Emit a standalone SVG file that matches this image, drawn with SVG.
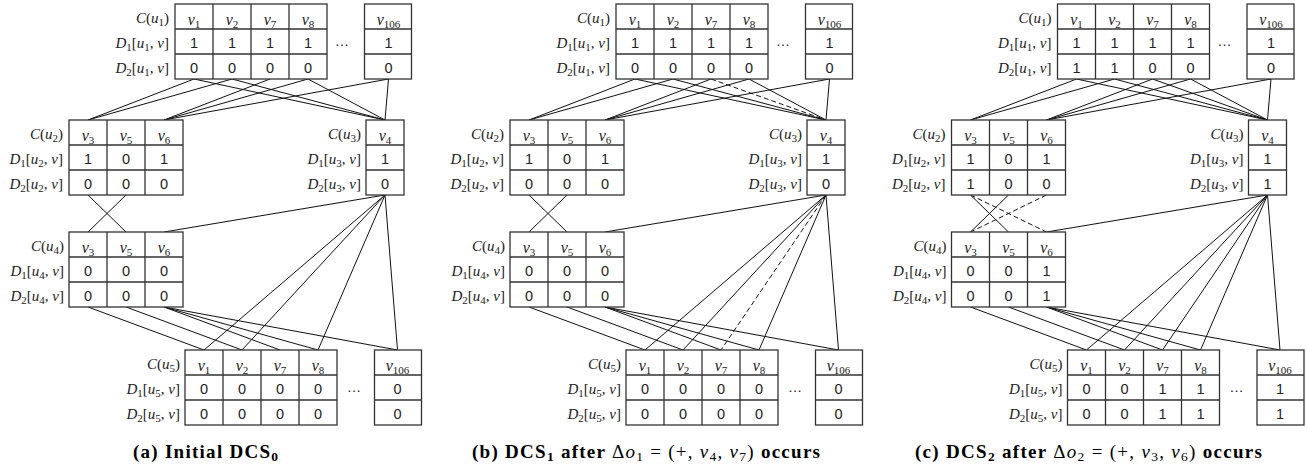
<svg xmlns="http://www.w3.org/2000/svg" xmlns:xlink="http://www.w3.org/1999/xlink" width="1307" height="471" viewBox="0 0 1307 471">
<style>
.tb{fill:#fff;stroke:#333;stroke-width:1.3}
.e{fill:none;stroke:#111;stroke-width:1}
.d{stroke-dasharray:5 3}
.v{font-family:"Liberation Serif",serif;font-style:italic;font-size:16px;text-anchor:middle;fill:#222}
.s{font-style:normal;font-size:11px}
.n{font-family:"Liberation Sans",sans-serif;font-size:14.5px;text-anchor:middle;fill:#222}
.l{font-family:"Liberation Serif",serif;font-size:15px;text-anchor:end;fill:#222}
.i{font-style:italic}
.cap{font-family:"Liberation Serif",serif;font-size:19px;font-weight:bold;text-anchor:middle;fill:#000}
.r{font-weight:normal}
.cs{font-size:13.5px}
</style>
<defs>
<g id="t4"><rect width="152" height="75"/><path d="M38 0V75M76 0V75M114 0V75M0 25H152M0 50H152"/><rect x="189.5" width="47" height="75"/><path d="M189.5 25H236.5M189.5 50H236.5"/></g>
<g id="t3"><rect width="114" height="75"/><path d="M38 0V75M76 0V75M0 25H114M0 50H114"/></g>
<g id="t1"><rect width="38" height="75"/><path d="M0 25H38M0 50H38"/></g>
</defs>

<!-- ================= PANEL A ================= -->
<g id="panel-a">
<g id="a-edges">
<path class="e" d="M194 79L88 120M232 79L88 120M270 79L164 120M308 79L164 120M388.5 79L164 120M194 79L385 120M232 79L385 120M308 79L385 120M388.5 79L385 120M88 195L126 232M126 195L88 232M385 195L164 232M385 195L204 350M385 195L242 350M385 195L318 350M385 195L397.5 350M88 307L204 350M126 307L242 350M164 307L280 350M164 307L318 350M164 307L397.5 350"/>
</g>
<g id="a-u1">
<use xlink:href="#t4" href="#t4" class="tb" x="175" y="4"/>
<text class="l" x="169" y="22.5"><tspan class="i">C</tspan>(<tspan class="i">u</tspan><tspan class="s" dy="3">1</tspan><tspan dy="-3">)</tspan></text>
<text class="l" x="169" y="47.5"><tspan class="i">D</tspan><tspan class="s" dy="3">1</tspan><tspan dy="-3">[</tspan><tspan class="i">u</tspan><tspan class="s" dy="3">1</tspan><tspan dy="-3">, </tspan><tspan class="i">v</tspan>]</text>
<text class="l" x="169" y="72.5"><tspan class="i">D</tspan><tspan class="s" dy="3">2</tspan><tspan dy="-3">[</tspan><tspan class="i">u</tspan><tspan class="s" dy="3">1</tspan><tspan dy="-3">, </tspan><tspan class="i">v</tspan>]</text>
<text class="v" x="194" y="24.5">v<tspan class="s" dy="3">1</tspan></text>
<text class="v" x="232" y="24.5">v<tspan class="s" dy="3">2</tspan></text>
<text class="v" x="270" y="24.5">v<tspan class="s" dy="3">7</tspan></text>
<text class="v" x="308" y="24.5">v<tspan class="s" dy="3">8</tspan></text>
<text class="v" x="388.5" y="24.5">v<tspan class="s" dy="3">106</tspan></text>
<text class="n" x="194" y="48">1</text><text class="n" x="232" y="48">1</text><text class="n" x="270" y="48">1</text><text class="n" x="308" y="48">1</text><text class="n" x="388.5" y="48">1</text>
<text class="n" x="194" y="73">0</text><text class="n" x="232" y="73">0</text><text class="n" x="270" y="73">0</text><text class="n" x="308" y="73">0</text><text class="n" x="388.5" y="73">0</text>
<text class="n" x="342" y="46">…</text>
</g>
<g id="a-u2">
<use xlink:href="#t3" href="#t3" class="tb" x="69" y="120"/>
<text class="l" x="63" y="138.5"><tspan class="i">C</tspan>(<tspan class="i">u</tspan><tspan class="s" dy="3">2</tspan><tspan dy="-3">)</tspan></text>
<text class="l" x="63" y="163.5"><tspan class="i">D</tspan><tspan class="s" dy="3">1</tspan><tspan dy="-3">[</tspan><tspan class="i">u</tspan><tspan class="s" dy="3">2</tspan><tspan dy="-3">, </tspan><tspan class="i">v</tspan>]</text>
<text class="l" x="63" y="188.5"><tspan class="i">D</tspan><tspan class="s" dy="3">2</tspan><tspan dy="-3">[</tspan><tspan class="i">u</tspan><tspan class="s" dy="3">2</tspan><tspan dy="-3">, </tspan><tspan class="i">v</tspan>]</text>
<text class="v" x="88" y="140.5">v<tspan class="s" dy="3">3</tspan></text>
<text class="v" x="126" y="140.5">v<tspan class="s" dy="3">5</tspan></text>
<text class="v" x="164" y="140.5">v<tspan class="s" dy="3">6</tspan></text>
<text class="n" x="88" y="164">1</text><text class="n" x="126" y="164">0</text><text class="n" x="164" y="164">1</text>
<text class="n" x="88" y="189">0</text><text class="n" x="126" y="189">0</text><text class="n" x="164" y="189">0</text>
</g>
<g id="a-u3">
<use xlink:href="#t1" href="#t1" class="tb" x="366" y="120"/>
<text class="l" x="361" y="138.5"><tspan class="i">C</tspan>(<tspan class="i">u</tspan><tspan class="s" dy="3">3</tspan><tspan dy="-3">)</tspan></text>
<text class="l" x="361" y="163.5"><tspan class="i">D</tspan><tspan class="s" dy="3">1</tspan><tspan dy="-3">[</tspan><tspan class="i">u</tspan><tspan class="s" dy="3">3</tspan><tspan dy="-3">, </tspan><tspan class="i">v</tspan>]</text>
<text class="l" x="361" y="188.5"><tspan class="i">D</tspan><tspan class="s" dy="3">2</tspan><tspan dy="-3">[</tspan><tspan class="i">u</tspan><tspan class="s" dy="3">3</tspan><tspan dy="-3">, </tspan><tspan class="i">v</tspan>]</text>
<text class="v" x="385" y="140.5">v<tspan class="s" dy="3">4</tspan></text>
<text class="n" x="385" y="164">1</text>
<text class="n" x="385" y="189">0</text>
</g>
<g id="a-u4">
<use xlink:href="#t3" href="#t3" class="tb" x="69" y="232"/>
<text class="l" x="64" y="250.5"><tspan class="i">C</tspan>(<tspan class="i">u</tspan><tspan class="s" dy="3">4</tspan><tspan dy="-3">)</tspan></text>
<text class="l" x="64" y="275.5"><tspan class="i">D</tspan><tspan class="s" dy="3">1</tspan><tspan dy="-3">[</tspan><tspan class="i">u</tspan><tspan class="s" dy="3">4</tspan><tspan dy="-3">, </tspan><tspan class="i">v</tspan>]</text>
<text class="l" x="64" y="300.5"><tspan class="i">D</tspan><tspan class="s" dy="3">2</tspan><tspan dy="-3">[</tspan><tspan class="i">u</tspan><tspan class="s" dy="3">4</tspan><tspan dy="-3">, </tspan><tspan class="i">v</tspan>]</text>
<text class="v" x="88" y="252.5">v<tspan class="s" dy="3">3</tspan></text>
<text class="v" x="126" y="252.5">v<tspan class="s" dy="3">5</tspan></text>
<text class="v" x="164" y="252.5">v<tspan class="s" dy="3">6</tspan></text>
<text class="n" x="88" y="276">0</text><text class="n" x="126" y="276">0</text><text class="n" x="164" y="276">0</text>
<text class="n" x="88" y="301">0</text><text class="n" x="126" y="301">0</text><text class="n" x="164" y="301">0</text>
</g>
<g id="a-u5">
<use xlink:href="#t4" href="#t4" class="tb" x="185" y="350"/>
<text class="l" x="180" y="368.5"><tspan class="i">C</tspan>(<tspan class="i">u</tspan><tspan class="s" dy="3">5</tspan><tspan dy="-3">)</tspan></text>
<text class="l" x="180" y="393.5"><tspan class="i">D</tspan><tspan class="s" dy="3">1</tspan><tspan dy="-3">[</tspan><tspan class="i">u</tspan><tspan class="s" dy="3">5</tspan><tspan dy="-3">, </tspan><tspan class="i">v</tspan>]</text>
<text class="l" x="180" y="418.5"><tspan class="i">D</tspan><tspan class="s" dy="3">2</tspan><tspan dy="-3">[</tspan><tspan class="i">u</tspan><tspan class="s" dy="3">5</tspan><tspan dy="-3">, </tspan><tspan class="i">v</tspan>]</text>
<text class="v" x="204" y="370.5">v<tspan class="s" dy="3">1</tspan></text>
<text class="v" x="242" y="370.5">v<tspan class="s" dy="3">2</tspan></text>
<text class="v" x="280" y="370.5">v<tspan class="s" dy="3">7</tspan></text>
<text class="v" x="318" y="370.5">v<tspan class="s" dy="3">8</tspan></text>
<text class="v" x="397.5" y="370.5">v<tspan class="s" dy="3">106</tspan></text>
<text class="n" x="204" y="394">0</text><text class="n" x="242" y="394">0</text><text class="n" x="280" y="394">0</text><text class="n" x="318" y="394">0</text><text class="n" x="397.5" y="394">0</text>
<text class="n" x="204" y="419">0</text><text class="n" x="242" y="419">0</text><text class="n" x="280" y="419">0</text><text class="n" x="318" y="419">0</text><text class="n" x="397.5" y="419">0</text>
<text class="n" x="354" y="392">…</text>
</g>
<text class="cap" x="205.5" y="458" textLength="145" lengthAdjust="spacing">(a) Initial DCS<tspan class="cs" dy="3">0</tspan></text>
</g>

<!-- ================= PANEL B ================= -->
<g id="panel-b" transform="translate(441,0)">
<g id="b-edges">
<path class="e" d="M194 79L88 120M232 79L88 120M270 79L164 120M308 79L164 120M388.5 79L164 120M194 79L385 120M232 79L385 120M308 79L385 120M388.5 79L385 120M88 195L126 232M126 195L88 232M385 195L164 232M385 195L204 350M385 195L242 350M385 195L318 350M385 195L397.5 350M88 307L204 350M126 307L242 350M164 307L280 350M164 307L318 350M164 307L397.5 350"/>
<path class="e d" d="M270 79L385 120M385 195L280 350"/>
</g>
<g id="b-u1">
<use xlink:href="#t4" href="#t4" class="tb" x="175" y="4"/>
<text class="l" x="169" y="22.5"><tspan class="i">C</tspan>(<tspan class="i">u</tspan><tspan class="s" dy="3">1</tspan><tspan dy="-3">)</tspan></text>
<text class="l" x="169" y="47.5"><tspan class="i">D</tspan><tspan class="s" dy="3">1</tspan><tspan dy="-3">[</tspan><tspan class="i">u</tspan><tspan class="s" dy="3">1</tspan><tspan dy="-3">, </tspan><tspan class="i">v</tspan>]</text>
<text class="l" x="169" y="72.5"><tspan class="i">D</tspan><tspan class="s" dy="3">2</tspan><tspan dy="-3">[</tspan><tspan class="i">u</tspan><tspan class="s" dy="3">1</tspan><tspan dy="-3">, </tspan><tspan class="i">v</tspan>]</text>
<text class="v" x="194" y="24.5">v<tspan class="s" dy="3">1</tspan></text>
<text class="v" x="232" y="24.5">v<tspan class="s" dy="3">2</tspan></text>
<text class="v" x="270" y="24.5">v<tspan class="s" dy="3">7</tspan></text>
<text class="v" x="308" y="24.5">v<tspan class="s" dy="3">8</tspan></text>
<text class="v" x="388.5" y="24.5">v<tspan class="s" dy="3">106</tspan></text>
<text class="n" x="194" y="48">1</text><text class="n" x="232" y="48">1</text><text class="n" x="270" y="48">1</text><text class="n" x="308" y="48">1</text><text class="n" x="388.5" y="48">1</text>
<text class="n" x="194" y="73">0</text><text class="n" x="232" y="73">0</text><text class="n" x="270" y="73">0</text><text class="n" x="308" y="73">0</text><text class="n" x="388.5" y="73">0</text>
<text class="n" x="342" y="46">…</text>
</g>
<g id="b-u2">
<use xlink:href="#t3" href="#t3" class="tb" x="69" y="120"/>
<text class="l" x="63" y="138.5"><tspan class="i">C</tspan>(<tspan class="i">u</tspan><tspan class="s" dy="3">2</tspan><tspan dy="-3">)</tspan></text>
<text class="l" x="63" y="163.5"><tspan class="i">D</tspan><tspan class="s" dy="3">1</tspan><tspan dy="-3">[</tspan><tspan class="i">u</tspan><tspan class="s" dy="3">2</tspan><tspan dy="-3">, </tspan><tspan class="i">v</tspan>]</text>
<text class="l" x="63" y="188.5"><tspan class="i">D</tspan><tspan class="s" dy="3">2</tspan><tspan dy="-3">[</tspan><tspan class="i">u</tspan><tspan class="s" dy="3">2</tspan><tspan dy="-3">, </tspan><tspan class="i">v</tspan>]</text>
<text class="v" x="88" y="140.5">v<tspan class="s" dy="3">3</tspan></text>
<text class="v" x="126" y="140.5">v<tspan class="s" dy="3">5</tspan></text>
<text class="v" x="164" y="140.5">v<tspan class="s" dy="3">6</tspan></text>
<text class="n" x="88" y="164">1</text><text class="n" x="126" y="164">0</text><text class="n" x="164" y="164">1</text>
<text class="n" x="88" y="189">0</text><text class="n" x="126" y="189">0</text><text class="n" x="164" y="189">0</text>
</g>
<g id="b-u3">
<use xlink:href="#t1" href="#t1" class="tb" x="366" y="120"/>
<text class="l" x="361" y="138.5"><tspan class="i">C</tspan>(<tspan class="i">u</tspan><tspan class="s" dy="3">3</tspan><tspan dy="-3">)</tspan></text>
<text class="l" x="361" y="163.5"><tspan class="i">D</tspan><tspan class="s" dy="3">1</tspan><tspan dy="-3">[</tspan><tspan class="i">u</tspan><tspan class="s" dy="3">3</tspan><tspan dy="-3">, </tspan><tspan class="i">v</tspan>]</text>
<text class="l" x="361" y="188.5"><tspan class="i">D</tspan><tspan class="s" dy="3">2</tspan><tspan dy="-3">[</tspan><tspan class="i">u</tspan><tspan class="s" dy="3">3</tspan><tspan dy="-3">, </tspan><tspan class="i">v</tspan>]</text>
<text class="v" x="385" y="140.5">v<tspan class="s" dy="3">4</tspan></text>
<text class="n" x="385" y="164">1</text>
<text class="n" x="385" y="189">0</text>
</g>
<g id="b-u4">
<use xlink:href="#t3" href="#t3" class="tb" x="69" y="232"/>
<text class="l" x="64" y="250.5"><tspan class="i">C</tspan>(<tspan class="i">u</tspan><tspan class="s" dy="3">4</tspan><tspan dy="-3">)</tspan></text>
<text class="l" x="64" y="275.5"><tspan class="i">D</tspan><tspan class="s" dy="3">1</tspan><tspan dy="-3">[</tspan><tspan class="i">u</tspan><tspan class="s" dy="3">4</tspan><tspan dy="-3">, </tspan><tspan class="i">v</tspan>]</text>
<text class="l" x="64" y="300.5"><tspan class="i">D</tspan><tspan class="s" dy="3">2</tspan><tspan dy="-3">[</tspan><tspan class="i">u</tspan><tspan class="s" dy="3">4</tspan><tspan dy="-3">, </tspan><tspan class="i">v</tspan>]</text>
<text class="v" x="88" y="252.5">v<tspan class="s" dy="3">3</tspan></text>
<text class="v" x="126" y="252.5">v<tspan class="s" dy="3">5</tspan></text>
<text class="v" x="164" y="252.5">v<tspan class="s" dy="3">6</tspan></text>
<text class="n" x="88" y="276">0</text><text class="n" x="126" y="276">0</text><text class="n" x="164" y="276">0</text>
<text class="n" x="88" y="301">0</text><text class="n" x="126" y="301">0</text><text class="n" x="164" y="301">0</text>
</g>
<g id="b-u5">
<use xlink:href="#t4" href="#t4" class="tb" x="185" y="350"/>
<text class="l" x="180" y="368.5"><tspan class="i">C</tspan>(<tspan class="i">u</tspan><tspan class="s" dy="3">5</tspan><tspan dy="-3">)</tspan></text>
<text class="l" x="180" y="393.5"><tspan class="i">D</tspan><tspan class="s" dy="3">1</tspan><tspan dy="-3">[</tspan><tspan class="i">u</tspan><tspan class="s" dy="3">5</tspan><tspan dy="-3">, </tspan><tspan class="i">v</tspan>]</text>
<text class="l" x="180" y="418.5"><tspan class="i">D</tspan><tspan class="s" dy="3">2</tspan><tspan dy="-3">[</tspan><tspan class="i">u</tspan><tspan class="s" dy="3">5</tspan><tspan dy="-3">, </tspan><tspan class="i">v</tspan>]</text>
<text class="v" x="204" y="370.5">v<tspan class="s" dy="3">1</tspan></text>
<text class="v" x="242" y="370.5">v<tspan class="s" dy="3">2</tspan></text>
<text class="v" x="280" y="370.5">v<tspan class="s" dy="3">7</tspan></text>
<text class="v" x="318" y="370.5">v<tspan class="s" dy="3">8</tspan></text>
<text class="v" x="397.5" y="370.5">v<tspan class="s" dy="3">106</tspan></text>
<text class="n" x="204" y="394">0</text><text class="n" x="242" y="394">0</text><text class="n" x="280" y="394">0</text><text class="n" x="318" y="394">0</text><text class="n" x="397.5" y="394">0</text>
<text class="n" x="204" y="419">0</text><text class="n" x="242" y="419">0</text><text class="n" x="280" y="419">0</text><text class="n" x="318" y="419">0</text><text class="n" x="397.5" y="419">0</text>
<text class="n" x="354" y="392">…</text>
</g>
<text class="cap" x="205" y="458" textLength="348" lengthAdjust="spacing">(b) DCS<tspan class="cs" dy="3">1</tspan><tspan dy="-3"> after </tspan><tspan class="r">Δ<tspan class="i">o</tspan><tspan class="cs" dy="3">1</tspan><tspan dy="-3"> = (+, </tspan><tspan class="i">v</tspan><tspan class="cs" dy="3">4</tspan><tspan dy="-3">, </tspan><tspan class="i">v</tspan><tspan class="cs" dy="3">7</tspan><tspan dy="-3">)</tspan></tspan> occurs</text>
</g>

<!-- ================= PANEL C ================= -->
<g id="panel-c" transform="translate(882.5,0)">
<g id="c-edges">
<path class="e" d="M194 79L88 120M232 79L88 120M270 79L164 120M308 79L164 120M388.5 79L164 120M194 79L385 120M232 79L385 120M270 79L385 120M308 79L385 120M388.5 79L385 120M88 195L126 232M126 195L88 232M385 195L164 232M385 195L204 350M385 195L242 350M385 195L280 350M385 195L318 350M385 195L397.5 350M88 307L204 350M126 307L242 350M164 307L280 350M164 307L318 350M164 307L397.5 350"/>
<path class="e d" d="M88 195L164 232M164 195L88 232"/>
</g>
<g id="c-u1">
<use xlink:href="#t4" href="#t4" class="tb" x="175" y="4"/>
<text class="l" x="169" y="22.5"><tspan class="i">C</tspan>(<tspan class="i">u</tspan><tspan class="s" dy="3">1</tspan><tspan dy="-3">)</tspan></text>
<text class="l" x="169" y="47.5"><tspan class="i">D</tspan><tspan class="s" dy="3">1</tspan><tspan dy="-3">[</tspan><tspan class="i">u</tspan><tspan class="s" dy="3">1</tspan><tspan dy="-3">, </tspan><tspan class="i">v</tspan>]</text>
<text class="l" x="169" y="72.5"><tspan class="i">D</tspan><tspan class="s" dy="3">2</tspan><tspan dy="-3">[</tspan><tspan class="i">u</tspan><tspan class="s" dy="3">1</tspan><tspan dy="-3">, </tspan><tspan class="i">v</tspan>]</text>
<text class="v" x="194" y="24.5">v<tspan class="s" dy="3">1</tspan></text>
<text class="v" x="232" y="24.5">v<tspan class="s" dy="3">2</tspan></text>
<text class="v" x="270" y="24.5">v<tspan class="s" dy="3">7</tspan></text>
<text class="v" x="308" y="24.5">v<tspan class="s" dy="3">8</tspan></text>
<text class="v" x="388.5" y="24.5">v<tspan class="s" dy="3">106</tspan></text>
<text class="n" x="194" y="48">1</text><text class="n" x="232" y="48">1</text><text class="n" x="270" y="48">1</text><text class="n" x="308" y="48">1</text><text class="n" x="388.5" y="48">1</text>
<text class="n" x="194" y="73">1</text><text class="n" x="232" y="73">1</text><text class="n" x="270" y="73">0</text><text class="n" x="308" y="73">0</text><text class="n" x="388.5" y="73">0</text>
<text class="n" x="342" y="46">…</text>
</g>
<g id="c-u2">
<use xlink:href="#t3" href="#t3" class="tb" x="69" y="120"/>
<text class="l" x="63" y="138.5"><tspan class="i">C</tspan>(<tspan class="i">u</tspan><tspan class="s" dy="3">2</tspan><tspan dy="-3">)</tspan></text>
<text class="l" x="63" y="163.5"><tspan class="i">D</tspan><tspan class="s" dy="3">1</tspan><tspan dy="-3">[</tspan><tspan class="i">u</tspan><tspan class="s" dy="3">2</tspan><tspan dy="-3">, </tspan><tspan class="i">v</tspan>]</text>
<text class="l" x="63" y="188.5"><tspan class="i">D</tspan><tspan class="s" dy="3">2</tspan><tspan dy="-3">[</tspan><tspan class="i">u</tspan><tspan class="s" dy="3">2</tspan><tspan dy="-3">, </tspan><tspan class="i">v</tspan>]</text>
<text class="v" x="88" y="140.5">v<tspan class="s" dy="3">3</tspan></text>
<text class="v" x="126" y="140.5">v<tspan class="s" dy="3">5</tspan></text>
<text class="v" x="164" y="140.5">v<tspan class="s" dy="3">6</tspan></text>
<text class="n" x="88" y="164">1</text><text class="n" x="126" y="164">0</text><text class="n" x="164" y="164">1</text>
<text class="n" x="88" y="189">1</text><text class="n" x="126" y="189">0</text><text class="n" x="164" y="189">0</text>
</g>
<g id="c-u3">
<use xlink:href="#t1" href="#t1" class="tb" x="366" y="120"/>
<text class="l" x="361" y="138.5"><tspan class="i">C</tspan>(<tspan class="i">u</tspan><tspan class="s" dy="3">3</tspan><tspan dy="-3">)</tspan></text>
<text class="l" x="361" y="163.5"><tspan class="i">D</tspan><tspan class="s" dy="3">1</tspan><tspan dy="-3">[</tspan><tspan class="i">u</tspan><tspan class="s" dy="3">3</tspan><tspan dy="-3">, </tspan><tspan class="i">v</tspan>]</text>
<text class="l" x="361" y="188.5"><tspan class="i">D</tspan><tspan class="s" dy="3">2</tspan><tspan dy="-3">[</tspan><tspan class="i">u</tspan><tspan class="s" dy="3">3</tspan><tspan dy="-3">, </tspan><tspan class="i">v</tspan>]</text>
<text class="v" x="385" y="140.5">v<tspan class="s" dy="3">4</tspan></text>
<text class="n" x="385" y="164">1</text>
<text class="n" x="385" y="189">1</text>
</g>
<g id="c-u4">
<use xlink:href="#t3" href="#t3" class="tb" x="69" y="232"/>
<text class="l" x="64" y="250.5"><tspan class="i">C</tspan>(<tspan class="i">u</tspan><tspan class="s" dy="3">4</tspan><tspan dy="-3">)</tspan></text>
<text class="l" x="64" y="275.5"><tspan class="i">D</tspan><tspan class="s" dy="3">1</tspan><tspan dy="-3">[</tspan><tspan class="i">u</tspan><tspan class="s" dy="3">4</tspan><tspan dy="-3">, </tspan><tspan class="i">v</tspan>]</text>
<text class="l" x="64" y="300.5"><tspan class="i">D</tspan><tspan class="s" dy="3">2</tspan><tspan dy="-3">[</tspan><tspan class="i">u</tspan><tspan class="s" dy="3">4</tspan><tspan dy="-3">, </tspan><tspan class="i">v</tspan>]</text>
<text class="v" x="88" y="252.5">v<tspan class="s" dy="3">3</tspan></text>
<text class="v" x="126" y="252.5">v<tspan class="s" dy="3">5</tspan></text>
<text class="v" x="164" y="252.5">v<tspan class="s" dy="3">6</tspan></text>
<text class="n" x="88" y="276">0</text><text class="n" x="126" y="276">0</text><text class="n" x="164" y="276">1</text>
<text class="n" x="88" y="301">0</text><text class="n" x="126" y="301">0</text><text class="n" x="164" y="301">1</text>
</g>
<g id="c-u5">
<use xlink:href="#t4" href="#t4" class="tb" x="185" y="350"/>
<text class="l" x="180" y="368.5"><tspan class="i">C</tspan>(<tspan class="i">u</tspan><tspan class="s" dy="3">5</tspan><tspan dy="-3">)</tspan></text>
<text class="l" x="180" y="393.5"><tspan class="i">D</tspan><tspan class="s" dy="3">1</tspan><tspan dy="-3">[</tspan><tspan class="i">u</tspan><tspan class="s" dy="3">5</tspan><tspan dy="-3">, </tspan><tspan class="i">v</tspan>]</text>
<text class="l" x="180" y="418.5"><tspan class="i">D</tspan><tspan class="s" dy="3">2</tspan><tspan dy="-3">[</tspan><tspan class="i">u</tspan><tspan class="s" dy="3">5</tspan><tspan dy="-3">, </tspan><tspan class="i">v</tspan>]</text>
<text class="v" x="204" y="370.5">v<tspan class="s" dy="3">1</tspan></text>
<text class="v" x="242" y="370.5">v<tspan class="s" dy="3">2</tspan></text>
<text class="v" x="280" y="370.5">v<tspan class="s" dy="3">7</tspan></text>
<text class="v" x="318" y="370.5">v<tspan class="s" dy="3">8</tspan></text>
<text class="v" x="397.5" y="370.5">v<tspan class="s" dy="3">106</tspan></text>
<text class="n" x="204" y="394">0</text><text class="n" x="242" y="394">0</text><text class="n" x="280" y="394">1</text><text class="n" x="318" y="394">1</text><text class="n" x="397.5" y="394">1</text>
<text class="n" x="204" y="419">0</text><text class="n" x="242" y="419">0</text><text class="n" x="280" y="419">1</text><text class="n" x="318" y="419">1</text><text class="n" x="397.5" y="419">1</text>
<text class="n" x="354" y="392">…</text>
</g>
<text class="cap" x="206" y="458" textLength="347" lengthAdjust="spacing">(c) DCS<tspan class="cs" dy="3">2</tspan><tspan dy="-3"> after </tspan><tspan class="r">Δ<tspan class="i">o</tspan><tspan class="cs" dy="3">2</tspan><tspan dy="-3"> = (+, </tspan><tspan class="i">v</tspan><tspan class="cs" dy="3">3</tspan><tspan dy="-3">, </tspan><tspan class="i">v</tspan><tspan class="cs" dy="3">6</tspan><tspan dy="-3">)</tspan></tspan> occurs</text>
</g>
</svg>
